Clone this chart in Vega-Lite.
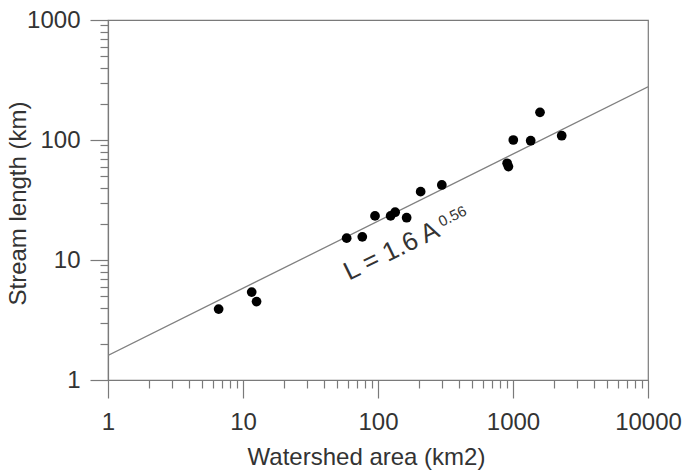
{
  "$schema": "https://vega.github.io/schema/vega-lite/v6.json",
  "width": 540,
  "height": 360,
  "autosize": {"type": "none"},
  "padding": {"left": 108, "top": 20, "right": 35, "bottom": 94},
  "background": "white",
  "config": {
    "view": {"stroke": "#7a7a7a", "strokeWidth": 1.2},
    "font": "Liberation Sans",
    "axis": {
      "grid": false,
      "domainColor": "#7a7a7a",
      "domainWidth": 1.2,
      "tickColor": "#7a7a7a",
      "tickWidth": 1.2,
      "labelFont": "Liberation Sans",
      "labelFontSize": 24,
      "labelColor": "#333333",
      "titleFont": "Liberation Sans",
      "titleFontSize": 24,
      "titleFontWeight": "normal",
      "titleColor": "#333333"
    }
  },
  "datasets": {
    "streams": [
      {"area": 6.6, "length": 3.9},
      {"area": 11.6, "length": 5.4},
      {"area": 12.6, "length": 4.5},
      {"area": 58.6, "length": 15.2},
      {"area": 76.5, "length": 15.6},
      {"area": 95, "length": 23.3},
      {"area": 124, "length": 23.3},
      {"area": 134, "length": 25},
      {"area": 163, "length": 22.5},
      {"area": 207, "length": 37.1},
      {"area": 297, "length": 42.2},
      {"area": 905, "length": 64},
      {"area": 925, "length": 60},
      {"area": 1005, "length": 100},
      {"area": 1352, "length": 98.7},
      {"area": 1585, "length": 170},
      {"area": 2295, "length": 108.6}
    ],
    "fit": [
      {"area": 1, "length": 1.6},
      {"area": 10000, "length": 278}
    ],
    "equation": [
      {"area": 61, "length": 6.7, "text": "L = 1.6 A"}
    ],
    "exponent": [
      {"area": 296, "length": 18.8, "text": "0.56"}
    ]
  },
  "encoding": {
    "x": {
      "field": "area",
      "type": "quantitative",
      "scale": {"type": "log", "domain": [1, 10000], "nice": false},
      "axis": {
        "values": [1,2,3,4,5,6,7,8,9,10,20,30,40,50,60,70,80,90,100,200,300,400,500,600,700,800,900,1000,2000,3000,4000,5000,6000,7000,8000,9000,10000],
        "tickSize": {"condition": {"test": "datum.value == 1 || datum.value == 10 || datum.value == 100 || datum.value == 1000 || datum.value == 10000", "value": 18}, "value": 8},
        "labelExpr": "(datum.value == 1 || datum.value == 10 || datum.value == 100 || datum.value == 1000 || datum.value == 10000) ? format(datum.value, 'd') : ''",
        "labelPadding": 12,
        "labelFlush": false,
        "labelOverlap": false,
        "title": "Watershed area (km2)",
        "titleX": 258,
        "titleY": 84,
        "titleBaseline": "alphabetic"
      }
    },
    "y": {
      "field": "length",
      "type": "quantitative",
      "scale": {"type": "log", "domain": [1, 1000], "nice": false},
      "axis": {
        "values": [1,2,3,4,5,6,7,8,9,10,20,30,40,50,60,70,80,90,100,200,300,400,500,600,700,800,900,1000],
        "tickSize": {"condition": {"test": "datum.value == 1 || datum.value == 10 || datum.value == 100 || datum.value == 1000", "value": 18}, "value": 8},
        "labelExpr": "(datum.value == 1 || datum.value == 10 || datum.value == 100 || datum.value == 1000) ? format(datum.value, 'd') : ''",
        "labelPadding": 10,
        "labelFlush": false,
        "labelOverlap": false,
        "title": "Stream length (km)",
        "titleX": -83,
        "titleY": 183,
        "titleBaseline": "alphabetic"
      }
    }
  },
  "layer": [
    {
      "data": {"name": "fit"},
      "mark": {"type": "line", "color": "#808080", "strokeWidth": 1.3, "clip": true}
    },
    {
      "data": {"name": "streams"},
      "mark": {"type": "point", "filled": true, "color": "#000000", "opacity": 1, "size": 95}
    },
    {
      "data": {"name": "equation"},
      "mark": {"type": "text", "align": "left", "baseline": "alphabetic", "angle": -26, "fontSize": 26, "color": "#333333", "font": "Liberation Sans"},
      "encoding": {"text": {"field": "text"}}
    },
    {
      "data": {"name": "exponent"},
      "mark": {"type": "text", "align": "left", "baseline": "alphabetic", "angle": -26, "fontSize": 15, "color": "#333333", "font": "Liberation Sans"},
      "encoding": {"text": {"field": "text"}}
    }
  ]
}
